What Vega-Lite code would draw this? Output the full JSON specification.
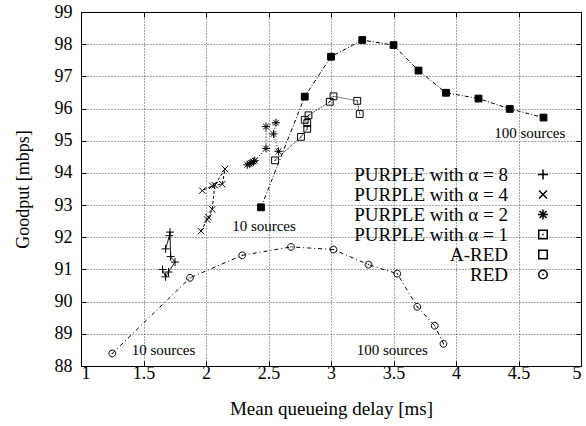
{
  "$schema": "https://vega.github.io/schema/vega-lite/v6.json",
  "width": 500,
  "height": 354,
  "autosize": {"type": "none"},
  "padding": {"left": 81, "top": 12, "right": 5, "bottom": 60},
  "background": "white",
  "config": {
    "view": {"stroke": "black", "strokeWidth": 1},
    "font": "Liberation Serif",
    "axis": {
      "labelFont": "Liberation Serif",
      "titleFont": "Liberation Serif",
      "labelColor": "black",
      "titleColor": "black",
      "titleFontWeight": "normal",
      "tickColor": "black",
      "domain": false
    }
  },
  "datasets": {
    "pts": [
      {"s": "PURPLE with α = 8", "k": 1, "x": 1.652, "y": 91.0},
      {"s": "PURPLE with α = 8", "k": 2, "x": 1.677, "y": 90.77},
      {"s": "PURPLE with α = 8", "k": 3, "x": 1.70, "y": 90.92},
      {"s": "PURPLE with α = 8", "k": 4, "x": 1.752, "y": 91.23},
      {"s": "PURPLE with α = 8", "k": 5, "x": 1.717, "y": 91.40},
      {"s": "PURPLE with α = 8", "k": 6, "x": 1.712, "y": 92.16},
      {"s": "PURPLE with α = 8", "k": 7, "x": 1.708, "y": 92.05},
      {"s": "PURPLE with α = 8", "k": 8, "x": 1.677, "y": 91.64},
      {"s": "PURPLE with α = 4", "k": 1, "x": 1.96, "y": 92.19},
      {"s": "PURPLE with α = 4", "k": 2, "x": 2.01, "y": 92.55},
      {"s": "PURPLE with α = 4", "k": 3, "x": 2.02, "y": 92.62},
      {"s": "PURPLE with α = 4", "k": 4, "x": 2.05, "y": 92.87},
      {"s": "PURPLE with α = 4", "k": 5, "x": 2.07, "y": 93.62},
      {"s": "PURPLE with α = 4", "k": 6, "x": 2.152, "y": 94.12},
      {"s": "PURPLE with α = 4", "k": 7, "x": 2.13, "y": 93.65},
      {"s": "PURPLE with α = 4", "k": 8, "x": 2.05, "y": 93.60},
      {"s": "PURPLE with α = 4", "k": 9, "x": 1.97, "y": 93.45},
      {"s": "PURPLE with α = 2", "k": 1, "x": 2.33, "y": 94.25},
      {"s": "PURPLE with α = 2", "k": 2, "x": 2.35, "y": 94.29},
      {"s": "PURPLE with α = 2", "k": 3, "x": 2.36, "y": 94.31},
      {"s": "PURPLE with α = 2", "k": 4, "x": 2.38, "y": 94.35},
      {"s": "PURPLE with α = 2", "k": 5, "x": 2.39, "y": 94.38},
      {"s": "PURPLE with α = 2", "k": 6, "x": 2.48, "y": 94.76},
      {"s": "PURPLE with α = 2", "k": 7, "x": 2.48, "y": 95.44},
      {"s": "PURPLE with α = 2", "k": 8, "x": 2.56, "y": 95.56},
      {"s": "PURPLE with α = 2", "k": 9, "x": 2.54, "y": 95.21},
      {"s": "PURPLE with α = 2", "k": 10, "x": 2.58, "y": 94.67},
      {"s": "PURPLE with α = 1", "k": 1, "x": 2.552, "y": 94.39},
      {"s": "PURPLE with α = 1", "k": 2, "x": 2.76, "y": 95.12},
      {"s": "PURPLE with α = 1", "k": 3, "x": 2.81, "y": 95.37},
      {"s": "PURPLE with α = 1", "k": 4, "x": 2.81, "y": 95.55},
      {"s": "PURPLE with α = 1", "k": 5, "x": 2.79, "y": 95.65},
      {"s": "PURPLE with α = 1", "k": 6, "x": 2.82, "y": 95.79},
      {"s": "PURPLE with α = 1", "k": 7, "x": 2.99, "y": 96.21},
      {"s": "PURPLE with α = 1", "k": 8, "x": 3.02, "y": 96.38},
      {"s": "PURPLE with α = 1", "k": 9, "x": 3.21, "y": 96.24},
      {"s": "PURPLE with α = 1", "k": 10, "x": 3.23, "y": 95.83},
      {"s": "A-RED", "k": 1, "x": 2.44, "y": 92.93},
      {"s": "A-RED", "k": 2, "x": 2.79, "y": 96.37},
      {"s": "A-RED", "k": 3, "x": 3.0, "y": 97.61},
      {"s": "A-RED", "k": 4, "x": 3.25, "y": 98.13},
      {"s": "A-RED", "k": 5, "x": 3.5, "y": 97.97},
      {"s": "A-RED", "k": 6, "x": 3.70, "y": 97.18},
      {"s": "A-RED", "k": 7, "x": 3.92, "y": 96.49},
      {"s": "A-RED", "k": 8, "x": 4.18, "y": 96.31},
      {"s": "A-RED", "k": 9, "x": 4.43, "y": 95.99},
      {"s": "A-RED", "k": 10, "x": 4.70, "y": 95.72},
      {"s": "RED", "k": 1, "x": 1.25, "y": 88.39},
      {"s": "RED", "k": 2, "x": 1.872, "y": 90.74},
      {"s": "RED", "k": 3, "x": 2.29, "y": 91.44},
      {"s": "RED", "k": 4, "x": 2.68, "y": 91.70},
      {"s": "RED", "k": 5, "x": 3.02, "y": 91.62},
      {"s": "RED", "k": 6, "x": 3.30, "y": 91.15},
      {"s": "RED", "k": 7, "x": 3.53, "y": 90.87},
      {"s": "RED", "k": 8, "x": 3.69, "y": 89.84},
      {"s": "RED", "k": 9, "x": 3.83, "y": 89.25},
      {"s": "RED", "k": 10, "x": 3.90, "y": 88.69}
    ],
    "notes": [
      {"label": "10 sources", "x": 2.464, "y": 92.35},
      {"label": "100 sources", "x": 4.59, "y": 95.24},
      {"label": "10 sources", "x": 1.66, "y": 88.5},
      {"label": "100 sources", "x": 3.49, "y": 88.5}
    ]
  },
  "layer": [
    {
      "data": {"name": "pts"},
      "mark": {"type": "line", "color": "black", "strokeWidth": 1},
      "encoding": {
        "x": {
          "field": "x", "type": "quantitative",
          "scale": {"domain": [1, 5], "nice": false, "zero": false},
          "axis": {
            "orient": "bottom",
            "values": [1, 1.5, 2, 2.5, 3, 3.5, 4, 4.5, 5],
            "format": "~g",
            "title": "Mean queueing delay [ms]",
            "titleFontSize": 19,
            "titlePadding": 17,
            "labelFontSize": 18,
            "labelPadding": 3,
            "tickSize": -5,
            "grid": true,
            "gridColor": "black",
            "gridDash": [1, 2],
            "gridOpacity": 0.7
          }
        },
        "y": {
          "field": "y", "type": "quantitative",
          "scale": {"domain": [88, 99], "nice": false, "zero": false},
          "axis": {
            "orient": "left",
            "values": [88, 89, 90, 91, 92, 93, 94, 95, 96, 97, 98, 99],
            "format": "d",
            "title": "Goodput [mbps]",
            "titleFontSize": 18,
            "titlePadding": 22,
            "labelFontSize": 18,
            "labelPadding": 14,
            "tickSize": -5,
            "grid": true,
            "gridColor": "black",
            "gridDash": [1, 2],
            "gridOpacity": 0.7
          }
        },
        "detail": {"field": "s", "type": "nominal"},
        "order": {"field": "k", "type": "quantitative"},
        "strokeDash": {
          "condition": [
            {"test": "datum.s == 'PURPLE with α = 4'", "value": [3, 2]},
            {"test": "datum.s == 'PURPLE with α = 2'", "value": [1, 2]},
            {"test": "datum.s == 'PURPLE with α = 1'", "value": [1, 1]},
            {"test": "datum.s == 'A-RED'", "value": [4, 2, 1, 2]},
            {"test": "datum.s == 'RED'", "value": [4, 3, 1, 3]}
          ],
          "value": [1, 0]
        }
      }
    },
    {
      "data": {"name": "pts"},
      "mark": {"type": "point", "filled": false, "stroke": "black", "strokeWidth": 1, "size": 64, "opacity": 1},
      "encoding": {
        "x": {
          "field": "x", "type": "quantitative",
          "axis": {"orient": "top", "values": [1, 1.5, 2, 2.5, 3, 3.5, 4, 4.5, 5], "labels": false, "title": null, "grid": false, "tickSize": -5}
        },
        "y": {
          "field": "y", "type": "quantitative",
          "axis": {"orient": "right", "values": [88, 89, 90, 91, 92, 93, 94, 95, 96, 97, 98, 99], "labels": false, "title": null, "grid": false, "tickSize": -5}
        },
        "fill": {"condition": {"test": "datum.s == 'A-RED'", "value": "black"}, "value": "transparent"},
        "shape": {
          "field": "s", "type": "nominal",
          "scale": {
            "domain": ["PURPLE with α = 8", "PURPLE with α = 4", "PURPLE with α = 2", "PURPLE with α = 1", "A-RED", "RED"],
            "range": [
              "M-1,0H1M0,-1V1",
              "M-0.8,-0.8L0.8,0.8M-0.8,0.8L0.8,-0.8",
              "M-1,0H1M0,-1V1M-0.7,-0.7L0.7,0.7M-0.7,0.7L0.7,-0.7",
              "M-0.85,-0.85H0.85V0.85H-0.85ZM-0.15,0H0.15",
              "M-0.85,-0.85H0.85V0.85H-0.85Z",
              "M-0.85,0A0.85,0.85 0 1,1 0.85,0A0.85,0.85 0 1,1 -0.85,0ZM-0.15,0H0.15"
            ]
          },
          "legend": {
            "orient": "none",
            "legendX": 452.5,
            "legendY": 153,
            "title": null,
            "rowPadding": -2.5,
            "labelAlign": "right",
            "labelOffset": -44.5,
            "labelFont": "Liberation Serif",
            "labelFontSize": 19,
            "labelColor": "black",
            "labelLimit": 400,
            "symbolSize": 100
          }
        }
      }
    },
    {
      "data": {"name": "notes"},
      "mark": {"type": "text", "font": "Liberation Serif", "fontSize": 15, "align": "center", "baseline": "middle", "color": "black"},
      "encoding": {
        "x": {"field": "x", "type": "quantitative", "axis": null},
        "y": {"field": "y", "type": "quantitative", "axis": null},
        "text": {"field": "label", "type": "nominal"}
      }
    }
  ],
  "resolve": {"axis": {"x": "independent", "y": "independent"}}
}
